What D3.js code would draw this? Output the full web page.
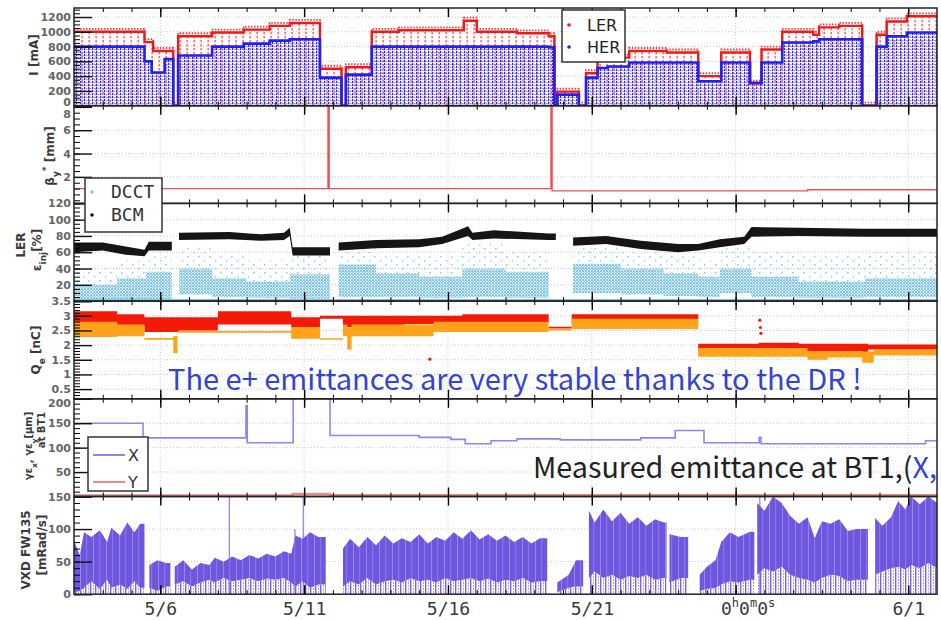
<!DOCTYPE html>
<head>
  <meta charset="utf-8">
  <script src="https://d3js.org/d3.v7.min.js"></script>
  <style>
    body { margin: 0; background: #fff; }
    svg { display: block; font-family: "DejaVu Sans", sans-serif; }
  </style>
</head>

<body>
  <svg width="941" height="620"></svg>

  <script>
    // time runs in days, day 0 = 5/3 00:00
    const xTickDays = [3, 8, 13, 18, 23, 29];
    const xTickLabels = ['5/6', '5/11', '5/16', '5/21', '0h0m0s', '6/1'];

    // stored current [day, mA], value holds until next point
    const lerCurrent = [[0, 1000], [2.45, 860], [2.75, 740], [3.45, 0], [3.62, 940], [4.8, 990], [5.9, 1030],
      [6.8, 1080], [7.5, 1120], [8.55, 500], [9.3, 0], [9.45, 520], [10.35, 1000], [11.3, 1020], [13.55, 1150],
      [14.0, 1000], [15.4, 980], [16.5, 940], [16.7, 0], [16.8, 190], [17.55, 0], [17.8, 440], [18.2, 620],
      [18.55, 650], [19.3, 740], [20.6, 720], [21.7, 400], [22.5, 720], [23.5, 300], [23.9, 760], [24.62, 1000],
      [25.7, 960], [25.9, 1060], [26.6, 1080], [27.4, 0], [27.9, 960], [28.25, 1140], [28.95, 1210], [30, 1210]];
    const herCurrent = [[0, 800], [2.45, 600], [2.7, 450], [3.15, 630], [3.45, 0], [3.62, 680], [4.8, 800],
      [5.9, 840], [6.8, 880], [7.5, 900], [8.55, 380], [9.3, 0], [9.45, 420], [10.35, 800], [13.55, 800],
      [16.5, 790], [16.7, 0], [16.8, 150], [17.55, 0], [17.8, 380], [18.2, 510], [18.55, 530], [19.3, 585],
      [20.6, 585], [21.7, 330], [22.5, 585], [23.5, 310], [23.9, 585], [24.62, 855], [25.7, 870], [25.9, 900],
      [26.6, 900], [27.4, 0], [27.9, 800], [28.25, 940], [28.95, 990], [30, 990]];

    // beta_y* [day, mm]
    const betaY = [[0, 1.0], [8.83, 9], [8.87, 1.0], [16.58, 9], [16.62, 0.8], [25.5, 0.9], [30, 0.9]];

    // LER injection efficiency bands [day, lo, hi(, sparse top)], null = no data
    const bcmEff = [[0, 60, 72], [1.0, 62, 72], [1.8, 57, 67], [2.45, 55, 63], [2.6, 62, 73], [3.4, null, null],
      [3.65, 75, 84], [5.4, 76, 85], [6.5, 74, 82], [7.3, 75, 84], [7.5, 80, 90], [7.6, 56, 66], [8.9, null, null],
      [9.2, 62, 72], [10.5, 65, 75], [12.0, 66, 76], [12.8, 70, 79], [13.7, 80, 92], [13.85, 75, 84], [14.6, 77, 87],
      [16.5, 75, 83], [16.75, null, null], [17.35, 68, 78], [18.5, 70, 80], [19.7, 64, 74], [21.0, 60, 70],
      [21.7, 62, 70], [22.45, 66, 76], [23.3, 70, 79], [23.55, 79, 91], [25.2, 80, 90], [27.5, 79, 89], [30, 79, 89]];
    const dcctEff = [[0, 2, 20, 40], [1.5, 2, 28, 50], [2.5, 2, 36, 55], [3.4, null, null, null], [3.65, 8, 40, 65],
      [4.8, 5, 28, 55], [6.0, 4, 24, 50], [7.5, 3, 33, 60], [8.9, null, null, null], [9.2, 5, 45, 65],
      [10.5, 5, 34, 55], [12.0, 4, 30, 55], [13.5, 5, 40, 70], [15.0, 4, 36, 60], [16.5, null, null, null],
      [17.35, 10, 46, 65], [19.0, 8, 40, 60], [20.5, 6, 34, 55], [21.7, 5, 30, 50], [22.45, 10, 40, 65],
      [23.55, 5, 30, 60], [25.2, 4, 24, 55], [27.5, 5, 28, 60], [30, 5, 28, 60]];

    // Qe [day, lo, hi] nC
    const qeRed = [[0, 2.72, 3.15], [1.5, 2.65, 3.05], [2.45, 2.45, 2.95], [3.65, 2.5, 2.95], [5.0, 2.7, 3.15],
      [7.55, 2.62, 2.95], [8.55, 2.9, 3.0], [9.35, 2.62, 3.0], [11.5, 2.72, 3.0], [13.5, 2.75, 3.05],
      [16.5, 2.57, 2.63], [17.3, 2.75, 3.05], [19.5, 2.8, 3.05], [21.7, 1.8, 2.05], [23.8, 1.78, 2.08],
      [25.2, 1.75, 2.05], [27.6, 1.85, 2.02], [30, 1.85, 2.02]];
    const qeOrange = [[0, 2.28, 2.8], [1.5, 2.3, 2.7], [2.45, 2.18, 2.24], [3.45, 1.72, 2.3], [3.6, 2.42, 2.48],
      [7.55, 2.22, 2.62], [8.55, 2.18, 2.23], [9.35, 2.3, 2.7], [9.5, 1.85, 2.6], [9.65, 2.3, 2.7],
      [12.5, 2.45, 2.8], [16.5, 2.5, 2.55], [17.3, 2.55, 2.9], [21.7, 1.6, 1.9], [25.5, 1.5, 1.8],
      [26.2, 1.58, 1.8], [27.4, 1.4, 1.78], [27.8, 1.65, 1.85], [30, 1.65, 1.85]];
    const qeRedDots = [[12.37, 1.52], [23.84, 2.85], [23.86, 2.6], [23.88, 2.4]];

    // emittance at BT1 [day, um]
    const emitX = [[0, 150], [2.4, 120], [5.98, 186], [6.02, 110], [7.62, 240], [8.9, 125], [12.0, 121],
      [13.1, 117], [13.6, 108], [14.5, 114], [15.4, 118], [16.9, 116], [19.7, 120], [20.9, 135], [21.9, 110],
      [23.82, 121], [23.88, 108], [29.6, 114], [30, 114]];
    const emitY = [[0, 2], [7.6, 5], [8.9, 2.5], [30, 2.5]];

    // VXD FW135 dose rate [day, lo, hi] mRad/s
    const vxdDose = [[0, 3, 82], [0.2, 5, 60], [0.35, 10, 95], [0.6, 20, 88], [0.9, 8, 98], [1.15, 22, 80],
      [1.3, 10, 102], [1.6, 15, 90], [1.85, 8, 110], [2.1, 20, 95], [2.3, 10, 108], [2.45, null, null],
      [2.62, 10, 45], [2.9, 5, 52], [3.2, 12, 48], [3.35, null, null], [3.5, 15, 42], [3.8, 20, 52],
      [4.1, 12, 38], [4.4, 18, 48], [4.7, 22, 45], [4.9, 18, 56], [5.2, 25, 50], [5.5, 20, 58], [5.8, 22, 52],
      [6.1, 25, 60], [6.4, 20, 55], [6.7, 24, 62], [7.0, 22, 58], [7.3, 25, 66], [7.55, 18, 62], [7.7, 12, 90],
      [7.95, 20, 85], [8.2, 10, 95], [8.5, 15, 88], [8.75, null, null], [9.35, 12, 70], [9.6, 20, 85],
      [9.9, 15, 72], [10.2, 25, 88], [10.5, 15, 75], [10.8, 20, 90], [11.1, 22, 78], [11.4, 18, 86],
      [11.7, 25, 80], [12.0, 20, 92], [12.3, 22, 78], [12.6, 18, 88], [12.9, 25, 82], [13.2, 20, 95],
      [13.5, 22, 85], [13.8, 25, 98], [14.1, 20, 84], [14.4, 24, 92], [14.7, 18, 82], [15.0, 22, 90],
      [15.3, 20, 80], [15.6, 25, 88], [15.9, 18, 78], [16.2, 20, 86], [16.45, null, null], [16.8, 3, 18],
      [17.2, 10, 30], [17.45, 12, 52], [17.7, null, null], [17.9, 25, 128], [18.1, 35, 110], [18.4, 25, 130],
      [18.7, 30, 112], [19.0, 22, 125], [19.3, 28, 108], [19.6, 25, 118], [19.9, 30, 105], [20.2, 22, 115],
      [20.5, 25, 110], [20.6, null, null], [20.7, 18, 92], [21.1, 25, 88], [21.35, null, null], [21.75, 5, 30],
      [22.0, 8, 42], [22.3, 10, 52], [22.5, 15, 80], [22.8, 20, 95], [23.1, 18, 88], [23.5, 22, 96],
      [23.65, null, null], [23.75, 30, 140], [24.0, 40, 128], [24.3, 35, 150], [24.6, 42, 140], [24.9, 30, 120],
      [25.2, 25, 108], [25.5, 22, 118], [25.75, 18, 86], [26.0, 25, 112], [26.3, 30, 108], [26.6, 28, 115],
      [26.9, 20, 97], [27.2, 22, 100], [27.6, null, null], [27.85, 30, 117], [28.1, 35, 105], [28.4, 40, 118],
      [28.65, 42, 143], [28.9, 38, 130], [29.1, 45, 150], [29.4, 40, 138], [29.7, 48, 150], [30, 40, 140]];
    const vxdSpikes = [[5.4, 150], [7.68, 100], [7.97, 150], [23.84, 150]];

    /*****************************************************
    ** layout
    ******************************************************/
    const svg = d3.select('svg');
    const left = 74, right = 937, top0 = 8, panelH = 97.7;
    const x = d3.scaleLinear().domain([0, 30]).range([left, right]);

    // topShift: push the top label down, away from the label of the panel above
    const panels = [
      { domain: [0, 1322], majors: d3.range(0, 1201, 200), minor: 50 },
      { domain: [-0.27, 8.1], majors: [2, 4, 6, 8], minor: 0.5, topShift: '1.0em' },
      { domain: [0, 120], majors: d3.range(0, 121, 20), minor: 5, noZeroLabel: true },
      { domain: [0.17, 3.5], majors: [0.5, 1, 1.5, 2, 2.5, 3, 3.5], minor: 0.1 },
      { domain: [0, 200], majors: [0, 50, 100, 150, 200], minor: 10, noZeroLabel: true, topShift: '0.72em' },
      { domain: [0, 150], majors: [0, 50, 100, 150], minor: 10 },
    ];
    panels.forEach((p, i) => {
      p.top = top0 + i * panelH;
      p.bottom = p.top + panelH;
      p.y = d3.scaleLinear().domain(p.domain).range([p.bottom, p.top]);
    });

    // end a step segment at the day of the following gap
    function holdUntilGap(rows) {
      const out = [];
      rows.forEach((r, i) => {
        out.push(r);
        const next = rows[i + 1];
        if (next && next[1] == null && r[1] != null) out.push([next[0], ...r.slice(1)]);
      });
      return out;
    }

    const defs = svg.append('defs');
    function dotPattern(id, w, h, dots, color, bg) {
      const p = defs.append('pattern').attr('id', id).attr('patternUnits', 'userSpaceOnUse')
        .attr('width', w).attr('height', h);
      if (bg) p.append('rect').attr('width', w).attr('height', h).attr('fill', bg);
      dots.forEach(([dx, dy, dw, dh]) => p.append('rect')
        .attr('x', dx).attr('y', dy).attr('width', dw).attr('height', dh).attr('fill', color));
    }
    dotPattern('herFill', 4, 3, [[0, 0, 1.3, 2.2], [2.5, 1, 0.8, 1.2]], '#2a2af0');
    dotPattern('lerFill', 7, 4, [[4.6, 0, 1, 2.4]], '#f02020');
    dotPattern('dcctDense', 3, 3, [[0, 0, 2, 2], [1.5, 1.5, 1.5, 1.5]], '#80c8ec');
    dotPattern('dcctSparse', 11, 8, [[0, 0, 1.6, 1.6], [6, 4, 1.4, 1.4]], '#8ccff0');
    dotPattern('vxdFill', 13, 4, [[2, 0, 0.8, 4], [8.5, 0, 0.6, 4]], '#a294f0', '#6f56de');
    dotPattern('vxdLow', 5, 3, [[0, 0, 1.4, 3], [3, 0, 0.6, 2]], '#7a62e2');

    panels.forEach((p, i) => {
      defs.append('clipPath').attr('id', 'clip' + i).append('rect')
        .attr('x', left).attr('y', p.top).attr('width', right - left).attr('height', panelH);
    });

    // grid
    panels.forEach(p => {
      const g = svg.append('g').attr('stroke', '#c8c8c8').attr('stroke-dasharray', '1,2');
      g.selectAll('.vg').data(xTickDays).enter().append('line')
        .attr('x1', d => x(d)).attr('x2', d => x(d)).attr('y1', p.top).attr('y2', p.bottom);
      g.selectAll('.hg').data(p.majors.filter(v => v > p.domain[0] && v < p.domain[1])).enter().append('line')
        .attr('x1', left).attr('x2', right).attr('y1', d => p.y(d)).attr('y2', d => p.y(d));
    });

    const plot = panels.map((p, i) => svg.append('g').attr('clip-path', `url(#clip${i})`));

    /*****************************************************
    ** panel 1: stored current
    ******************************************************/
    {
      const y = panels[0].y;
      const area = d3.area().curve(d3.curveStepAfter).x(d => x(d[0])).y0(y(0)).y1(d => y(d[1]));
      const line = d3.line().curve(d3.curveStepAfter).x(d => x(d[0])).y(d => y(d[1]));
      plot[0].append('path').attr('d', area(lerCurrent)).attr('fill', 'url(#lerFill)');
      plot[0].append('path').attr('d', area(herCurrent)).attr('fill', 'url(#herFill)');
      plot[0].append('path').attr('d', line(lerCurrent)).attr('transform', 'translate(0,-3)')
        .attr('fill', 'none').attr('stroke', '#f01818').attr('stroke-width', 1.8)
        .attr('stroke-dasharray', '1.5,1.5').attr('opacity', 0.85);
      plot[0].append('path').attr('d', line(lerCurrent)).attr('fill', 'none')
        .attr('stroke', '#f01818').attr('stroke-width', 2.4);
      plot[0].append('path').attr('d', line(herCurrent)).attr('fill', 'none')
        .attr('stroke', '#2020f0').attr('stroke-width', 2.6);
    }

    /*****************************************************
    ** panel 2: beta_y*
    ******************************************************/
    {
      const y = panels[1].y;
      const line = d3.line().curve(d3.curveStepAfter).x(d => x(d[0])).y(d => y(d[1]));
      plot[1].append('path').attr('d', line(betaY)).attr('fill', 'none')
        .attr('stroke', '#f05050').attr('stroke-width', 1.4);
    }

    /*****************************************************
    ** panel 3: LER injection efficiency
    ******************************************************/
    {
      const y = panels[2].y;
      const band = (lo, hi, curve) => d3.area().curve(curve).defined(d => d[1] != null)
        .x(d => x(d[0])).y0(d => y(d[lo])).y1(d => y(d[hi]));
      const dc = holdUntilGap(dcctEff);
      plot[2].append('path').attr('d', band(2, 3, d3.curveStepAfter)(dc)).attr('fill', 'url(#dcctSparse)');
      plot[2].append('path').attr('d', band(1, 2, d3.curveStepAfter)(dc)).attr('fill', 'url(#dcctDense)');
      plot[2].append('line').attr('x1', left).attr('x2', right).attr('y1', y(1.2)).attr('y2', y(1.2))
        .attr('stroke', '#7cc6ea').attr('stroke-width', 2);
      plot[2].append('path').attr('d', band(1, 2, d3.curveLinear)(holdUntilGap(bcmEff))).attr('fill', '#151515');
    }

    /*****************************************************
    ** panel 4: Qe
    ******************************************************/
    {
      const y = panels[3].y;
      const band = d3.area().curve(d3.curveStepAfter).x(d => x(d[0])).y0(d => y(d[1])).y1(d => y(d[2]));
      plot[3].append('path').attr('d', band(qeRed)).attr('fill', '#f41a08');
      plot[3].append('path').attr('d', band(qeOrange)).attr('fill', '#ffa31a');
      plot[3].selectAll('.dot').data(qeRedDots).enter().append('circle')
        .attr('cx', d => x(d[0])).attr('cy', d => y(d[1])).attr('r', 1.6).attr('fill', '#f41a08');
    }

    /*****************************************************
    ** panel 5: emittance at BT1
    ******************************************************/
    {
      const y = panels[4].y;
      const line = d3.line().curve(d3.curveStepAfter).x(d => x(d[0])).y(d => y(d[1]));
      plot[4].append('path').attr('d', line(emitY)).attr('fill', 'none')
        .attr('stroke', '#f08888').attr('stroke-width', 2.5);
      plot[4].append('path').attr('d', line(emitX)).attr('fill', 'none')
        .attr('stroke', '#8c86f4').attr('stroke-width', 1.6);
    }

    /*****************************************************
    ** panel 6: VXD dose
    ******************************************************/
    {
      const y = panels[5].y;
      plot[5].selectAll('.spk').data(vxdSpikes).enter().append('line')
        .attr('x1', d => x(d[0])).attr('x2', d => x(d[0])).attr('y1', y(0)).attr('y2', d => y(d[1]))
        .attr('stroke', '#8f7ee8').attr('stroke-width', 1.2);
      const rows = holdUntilGap(vxdDose);
      const low = d3.area().defined(d => d[1] != null).x(d => x(d[0])).y0(y(0)).y1(d => y(d[1]));
      plot[5].append('path').attr('d', low(rows)).attr('fill', 'url(#vxdLow)');
      const area = d3.area().defined(d => d[1] != null).x(d => x(d[0])).y0(d => y(d[1])).y1(d => y(d[2]));
      plot[5].append('path').attr('d', area(rows)).attr('fill', 'url(#vxdFill)');
    }

    /*****************************************************
    ** axes and frames
    ******************************************************/
    panels.forEach((p, i) => {
      const minors = d3.range(Math.ceil(p.domain[0] / p.minor) * p.minor, p.domain[1] + 1e-9, p.minor);
      svg.append('g').attr('transform', `translate(${left},0)`)
        .call(d3.axisLeft(p.y).tickValues(minors).tickSize(-6).tickFormat(''))
        .call(g => g.select('.domain').remove());
      const ax = svg.append('g').attr('transform', `translate(${left},0)`)
        .call(d3.axisLeft(p.y).tickValues(p.majors).tickSize(-18).tickPadding(3)
          .tickFormat(d => (p.noZeroLabel && d === 0) ? '' : d))
        .call(g => g.select('.domain').remove())
        .call(g => g.selectAll('line').attr('stroke', '#111').attr('stroke-width', 1.4))
        .call(g => g.selectAll('text').attr('font-size', 11).attr('font-weight', 'bold')
          .attr('fill', '#666').attr('font-family', 'DejaVu Sans'));
      if (p.topShift) ax.selectAll('text').filter(d => p.y(d) - p.top < 2).attr('dy', p.topShift);
      if (i === 0) ax.selectAll('text').filter(d => d === 0).attr('dy', '0em');

      // day ticks on top and bottom edges
      const days = d3.range(1, 30);
      [[d3.axisTop, p.top], [d3.axisBottom, p.bottom]].forEach(([axis, yy]) => {
        svg.append('g').attr('transform', `translate(0,${yy})`)
          .call(axis(x).tickValues(days).tickSize(-4).tickFormat(''))
          .call(g => g.select('.domain').remove());
        svg.append('g').attr('transform', `translate(0,${yy})`)
          .call(axis(x).tickValues(xTickDays).tickSize(-9).tickFormat(''))
          .call(g => g.select('.domain').remove())
          .call(g => g.selectAll('line').attr('stroke-width', 1.4));
      });

      svg.append('rect').attr('x', left).attr('y', p.top).attr('width', right - left).attr('height', panelH)
        .attr('fill', 'none').attr('stroke', '#222').attr('stroke-width', 1.5);
    });

    // date labels
    const xAxis = svg.append('g').attr('transform', `translate(0,${panels[5].bottom})`)
      .call(d3.axisBottom(x).tickValues(xTickDays).tickSize(0).tickPadding(8)
        .tickFormat((d, i) => xTickLabels[i]))
      .call(g => g.select('.domain').remove())
      .call(g => g.selectAll('text').attr('font-size', 18).attr('fill', '#3a3a3a')
        .attr('font-family', 'DejaVu Sans Mono'));
    xAxis.selectAll('text').filter((d, i) => xTickLabels[i] === '0h0m0s').each(function () {
      const t = d3.select(this).text('').attr('dx', 12);
      ['0', 'h', '0', 'm', '0', 's'].forEach((c, k) => {
        t.append('tspan').text(c).attr('font-size', k % 2 ? 12 : 18)
          .attr('dy', k % 2 ? -8 : (k ? 8 : null));
      });
    });

    /*****************************************************
    ** axis titles
    ******************************************************/
    function vTitle(cx, cy, parts, size) {
      const t = svg.append('text').attr('transform', `translate(${cx},${cy})rotate(-90)`)
        .attr('text-anchor', 'middle').attr('dy', '0.35em').attr('font-size', size || 12)
        .attr('font-weight', 'bold').attr('fill', '#3a3a3a');
      parts.forEach(([s, shift]) => {
        const sp = t.append('tspan').text(s);
        if (shift) sp.attr('baseline-shift', shift).attr('font-size', (size || 12) * 0.75);
      });
    }
    vTitle(34, 55, [['I  [mA]']]);
    vTitle(50, 156, [['β'], ['y', 'sub'], ['*', 'super'], [' [mm]']]);
    vTitle(21, 245, [['LER']]);
    vTitle(37, 250, [['ε'], ['inj', 'sub'], ['[%]']]);
    vTitle(36, 350, [['Q'], ['e', 'sub'], [' [nC]']]);
    vTitle(28, 446, [['γε'], ['x', 'sub'], [', γε'], ['y', 'sub'], ['[μm]']], 10);
    vTitle(41, 430, [['at BT1']], 10);
    vTitle(26, 550, [['VXD  FW135']]);
    vTitle(42, 545, [['[mRad/s]']]);

    /*****************************************************
    ** legends
    ******************************************************/
    function legendBox(x0, y0, w, h) {
      return svg.append('rect').attr('x', x0).attr('y', y0).attr('width', w).attr('height', h)
        .attr('fill', '#fff').attr('stroke', '#333').attr('stroke-width', 1.5);
    }
    legendBox(562, 10, 63, 52);
    [['LER', '#f01818', 25], ['HER', '#2020f0', 47]].forEach(([s, c, yy]) => {
      svg.append('circle').attr('cx', 569).attr('cy', yy).attr('r', 1.8).attr('fill', c);
      svg.append('text').attr('x', 587).attr('y', yy).attr('dy', '0.36em').attr('font-size', 16)
        .attr('fill', '#222').text(s);
    });
    legendBox(85, 178, 77, 54);
    [['DCCT', '#7cc6ea', 192], ['BCM', '#111', 215]].forEach(([s, c, yy]) => {
      svg.append('circle').attr('cx', 92).attr('cy', yy).attr('r', 1.8).attr('fill', c);
      svg.append('text').attr('x', 111).attr('y', yy).attr('dy', '0.36em').attr('font-size', 18)
        .attr('font-family', 'DejaVu Sans Mono').attr('fill', '#333').text(s);
    });
    legendBox(88, 437, 60, 54);
    [['X', '#8c86f4', 455], ['Y', '#f08888', 482]].forEach(([s, c, yy]) => {
      svg.append('line').attr('x1', 93).attr('x2', 125).attr('y1', yy).attr('y2', yy)
        .attr('stroke', c).attr('stroke-width', 2);
      svg.append('text').attr('x', 128).attr('y', yy).attr('dy', '0.36em').attr('font-size', 16)
        .attr('fill', '#333').text(s);
    });

    /*****************************************************
    ** annotations
    ******************************************************/
    const note = svg.append('text').attr('x', 168).attr('y', 390).attr('font-size', 26)
      .attr('font-family', '"Noto Sans CJK JP", "Noto Sans", sans-serif').attr('fill', '#3344d4')
      .text('The e+ emittances are very stable thanks to the DR !');
    note.attr('font-size', 26 * 694 / note.node().getComputedTextLength());

    const meas = svg.append('text').attr('x', 533).attr('y', 478).attr('font-size', 26)
      .attr('font-family', '"Noto Sans CJK JP", "Noto Sans", sans-serif').attr('fill', '#222');
    meas.append('tspan').text('Measured emittance at BT1,(');
    meas.append('tspan').attr('fill', '#3344d4').text('X,');
    meas.attr('font-size', 26 * 404 / meas.node().getComputedTextLength());
  </script>
</body>
